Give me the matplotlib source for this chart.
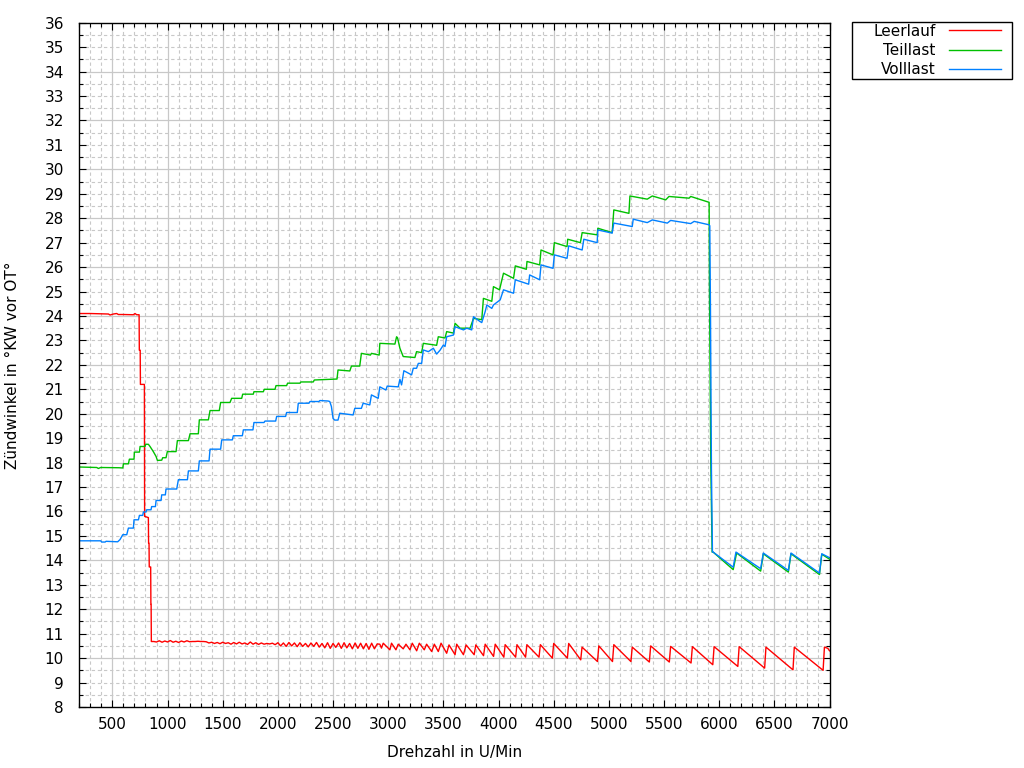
import matplotlib
matplotlib.use("Agg")
import matplotlib.pyplot as plt
from matplotlib.patches import Rectangle
from matplotlib.ticker import FixedLocator
import numpy as np

# ---------------- data (rpm, degrees) ----------------
series_names = ["Leerlauf", "Teillast", "Volllast"]
series_colors = ["#ff0000", "#00c000", "#0080ff"]

leerlauf = [
    (200, 24.10), (300, 24.10), (400, 24.09), (464, 24.08), (479, 24.04), (509, 24.08),
    (539, 24.10), (554, 24.06), (600, 24.06), (690, 24.05), (705, 24.10), (720, 24.05),
    (742, 24.05), (744, 22.60), (752, 22.60), (754, 21.20), (790, 21.20), (792, 15.80),
    (826, 15.75), (828, 14.70), (832, 14.70), (834, 13.73), (847, 13.73), (849, 12.20),
    (851, 12.20), (853, 10.68),
    (875, 10.68), (900, 10.66), (925, 10.71), (950, 10.65), (975, 10.70), (1000, 10.66),
    (1025, 10.72), (1050, 10.65), (1075, 10.69), (1100, 10.64), (1125, 10.70), (1150, 10.66),
    (1175, 10.71), (1200, 10.67), (1225, 10.68), (1250, 10.68), (1275, 10.69),
    (1300, 10.68), (1325, 10.68), (1350, 10.67), (1375, 10.62), (1400, 10.65), (1425, 10.60),
    (1450, 10.64), (1475, 10.59), (1500, 10.65), (1525, 10.60), (1550, 10.63), (1575, 10.57),
    (1600, 10.64), (1625, 10.58), (1650, 10.65), (1675, 10.58), (1700, 10.62), (1725, 10.56),
    (1750, 10.66), (1775, 10.57), (1800, 10.63), (1825, 10.56), (1850, 10.62), (1875, 10.57),
    (1900, 10.60), (1925, 10.58), (1950, 10.61), (1975, 10.55),
    (2000, 10.63), (2025, 10.50), (2050, 10.62), (2075, 10.48), (2100, 10.64), (2125, 10.50),
    (2150, 10.62), (2175, 10.47), (2200, 10.63), (2225, 10.48), (2250, 10.60), (2275, 10.46),
    (2300, 10.62), (2325, 10.48), (2350, 10.64), (2375, 10.45), (2400, 10.60), (2425, 10.42),
    (2450, 10.63), (2475, 10.40), (2500, 10.60), (2525, 10.44), (2550, 10.62), (2575, 10.40),
    (2600, 10.63), (2625, 10.42), (2650, 10.60), (2675, 10.38), (2700, 10.62), (2725, 10.40),
    (2750, 10.61), (2775, 10.38), (2800, 10.60), (2825, 10.36), (2850, 10.61), (2875, 10.38),
    (2900, 10.58),
    (2924, 10.57), (2939, 10.41), (2955, 10.61), (3015, 10.34), (3030, 10.61), (3070, 10.34),
    (3091, 10.57), (3136, 10.38), (3161, 10.57), (3197, 10.34), (3218, 10.61), (3258, 10.30),
    (3282, 10.61), (3327, 10.34), (3348, 10.57), (3394, 10.27), (3418, 10.57), (3454, 10.27),
    (3479, 10.61), (3530, 10.20), (3551, 10.54), (3606, 10.14), (3621, 10.57), (3682, 10.14),
    (3706, 10.54), (3779, 10.14), (3794, 10.54), (3864, 10.10), (3879, 10.57), (3955, 10.07),
    (3970, 10.57), (4048, 10.04), (4060, 10.55), (4155, 10.04), (4167, 10.55), (4245, 10.04),
    (4257, 10.55), (4367, 10.04), (4379, 10.55), (4488, 10.00), (4500, 10.60), (4624, 10.00),
    (4636, 10.60), (4745, 9.93), (4757, 10.45), (4897, 9.86), (4909, 10.50), (5033, 9.86),
    (5045, 10.55), (5200, 9.86), (5212, 10.45), (5367, 9.84), (5379, 10.50), (5548, 9.84),
    (5560, 10.48), (5745, 9.80), (5757, 10.47), (5942, 9.73), (5954, 10.47), (6169, 9.66),
    (6181, 10.47), (6412, 9.59), (6424, 10.45), (6669, 9.52), (6681, 10.45), (6942, 9.50),
    (6954, 10.45), (6985, 10.40), (7000, 10.30),
]

teillast = [
    (200, 17.82), (358, 17.80), (373, 17.76), (394, 17.80), (560, 17.79), (594, 17.78),
    (600, 17.95), (645, 17.95), (654, 18.14), (696, 18.14), (699, 18.43), (745, 18.43),
    (751, 18.66), (796, 18.66), (802, 18.75), (826, 18.75), (841, 18.66), (871, 18.45),
    (896, 18.25), (908, 18.09), (947, 18.10), (956, 18.20), (986, 18.20), (998, 18.45),
    (1077, 18.45), (1089, 18.90), (1189, 18.90), (1204, 19.18), (1279, 19.18), (1288, 19.75),
    (1370, 19.75), (1385, 20.13), (1469, 20.13), (1481, 20.46), (1566, 20.46), (1581, 20.63),
    (1672, 20.63), (1681, 20.80), (1777, 20.80), (1783, 20.90), (1868, 20.90), (1877, 21.00),
    (1974, 21.00), (1983, 21.15), (2079, 21.15), (2088, 21.25), (2200, 21.25), (2209, 21.30),
    (2321, 21.30), (2330, 21.38), (2536, 21.42), (2545, 21.79), (2652, 21.75), (2667, 21.95),
    (2742, 21.95), (2757, 22.47), (2839, 22.40), (2848, 22.47), (2918, 22.40), (2924, 22.88),
    (3061, 22.85), (3076, 23.15), (3085, 23.10), (3106, 22.68), (3136, 22.34), (3242, 22.30),
    (3257, 22.54), (3303, 22.50), (3318, 22.88), (3439, 22.80), (3454, 23.15), (3515, 23.10),
    (3530, 23.36), (3591, 23.30), (3606, 23.70), (3651, 23.50), (3742, 23.50), (3773, 23.90),
    (3848, 23.85), (3863, 24.72), (3939, 24.60), (3954, 25.20), (4009, 25.07), (4045, 25.75),
    (4136, 25.54), (4152, 26.05), (4252, 25.91), (4258, 26.23), (4373, 26.09), (4385, 26.70),
    (4494, 26.50), (4506, 27.00), (4621, 26.84), (4627, 27.14), (4742, 27.00), (4758, 27.41),
    (4894, 27.32), (4900, 27.59), (5030, 27.41), (5045, 28.34), (5182, 28.20), (5191, 28.91),
    (5348, 28.78), (5394, 28.91), (5515, 28.75), (5545, 28.89), (5727, 28.82), (5742, 28.89),
    (5909, 28.65), (5912, 25.06), (5918, 21.47), (5924, 17.96), (5936, 14.34), (5945, 14.34),
    (6127, 13.62), (6158, 14.30), (6376, 13.56), (6400, 14.27), (6627, 13.52), (6651, 14.27),
    (6909, 13.42), (6930, 14.25), (7000, 14.05),
]

volllast = [
    (200, 14.80), (394, 14.80), (403, 14.75), (434, 14.75), (443, 14.78), (548, 14.76),
    (569, 14.85), (594, 15.05), (630, 15.05), (645, 15.32), (690, 15.32), (696, 15.66),
    (736, 15.66), (745, 15.84), (775, 15.84), (781, 15.98), (805, 15.98), (811, 16.07),
    (850, 16.07), (856, 16.20), (890, 16.20), (896, 16.45), (941, 16.45), (947, 16.68),
    (980, 16.68), (986, 16.92), (1083, 16.92), (1098, 17.30), (1180, 17.30), (1189, 17.66),
    (1279, 17.66), (1288, 18.07), (1376, 18.07), (1385, 18.55), (1481, 18.55), (1491, 18.93),
    (1587, 18.93), (1596, 19.10), (1678, 19.10), (1687, 19.34), (1774, 19.34), (1783, 19.64),
    (1874, 19.64), (1883, 19.70), (1980, 19.70), (1989, 19.89), (2070, 19.89), (2079, 20.05),
    (2176, 20.05), (2185, 20.43), (2282, 20.43), (2291, 20.50), (2372, 20.50), (2381, 20.54),
    (2455, 20.52), (2470, 20.50), (2485, 20.30), (2500, 19.81), (2515, 19.74), (2545, 19.74),
    (2561, 20.02), (2682, 19.95), (2697, 20.22), (2757, 20.22), (2773, 20.43), (2833, 20.36),
    (2848, 20.77), (2909, 20.63), (2924, 21.10), (2979, 20.97), (2991, 21.13), (3091, 21.10),
    (3106, 21.41), (3121, 21.18), (3142, 21.76), (3212, 21.59), (3227, 21.86), (3257, 21.86),
    (3273, 22.06), (3303, 22.06), (3318, 22.61), (3364, 22.54), (3409, 22.68), (3439, 22.44),
    (3470, 22.60), (3500, 22.81), (3515, 22.75), (3530, 23.15), (3591, 23.22), (3606, 23.56),
    (3682, 23.43), (3712, 23.50), (3757, 23.43), (3773, 23.97), (3833, 23.77), (3848, 23.73),
    (3879, 24.18), (3894, 24.45), (3939, 24.31), (3954, 24.45), (4015, 24.66), (4045, 25.07),
    (4136, 24.93), (4152, 25.48), (4273, 25.30), (4282, 25.68), (4373, 25.48), (4385, 26.09),
    (4494, 25.95), (4506, 26.50), (4621, 26.36), (4636, 26.87), (4758, 26.70), (4773, 27.14),
    (4894, 27.00), (4900, 27.52), (5030, 27.39), (5045, 27.80), (5212, 27.66), (5221, 27.96),
    (5348, 27.82), (5394, 27.93), (5530, 27.80), (5560, 27.91), (5742, 27.78), (5773, 27.87),
    (5909, 27.73), (5915, 27.69), (5921, 24.30), (5930, 17.62), (5939, 14.34), (5945, 14.34),
    (6127, 13.72), (6152, 14.34), (6376, 13.66), (6400, 14.30), (6627, 13.59), (6651, 14.30),
    (6909, 13.48), (6930, 14.27), (7000, 14.11),
]

x_label = "Drehzahl in U/Min"
y_label = "Zündwinkel in °KW vor OT°"
x_range = (200, 7000)
y_range = (8, 36)

# ---------------- figure ----------------
plt.rcParams["font.family"] = ["DejaVu Sans"]
plt.rcParams["font.size"] = 11

W, H = 1024, 768
fig = plt.figure(figsize=(W / 100, H / 100), dpi=100)
ax_l, ax_r, ax_t, ax_b = 79.3, 829.5, 22.7, 707.0
ax = fig.add_axes([ax_l / W, 1 - ax_b / H, (ax_r - ax_l) / W, (ax_b - ax_t) / H])

ax.set_xlim(*x_range)
ax.set_ylim(*y_range)

# grid: solid at major positions, dashed at minor positions
grid_col = "#c8c8c8"
for gx in range(300, 7000, 100):
    if gx % 500 == 0:
        ax.axvline(gx, color=grid_col, lw=0.9, zorder=0)
    else:
        ax.axvline(gx, color=grid_col, lw=0.8, ls=(0, (3, 2.5)), zorder=0)
for gy in np.arange(8.5, 36.0, 0.5):
    if abs(gy % 2) < 1e-9:
        ax.axhline(gy, color=grid_col, lw=0.9, zorder=0)
    else:
        ax.axhline(gy, color=grid_col, lw=0.8, ls=(0, (3, 2.5)), zorder=0)

lines = []
for name, col, data in zip(series_names, series_colors, [leerlauf, teillast, volllast]):
    xs = [p[0] for p in data]
    ys = [p[1] for p in data]
    ln, = ax.plot(xs, ys, color=col, lw=1.0, label=name, zorder=3)
    lines.append(ln)

# ticks
ax.xaxis.set_major_locator(FixedLocator(list(range(500, 7001, 500))))
ax.xaxis.set_minor_locator(FixedLocator(list(range(200, 7001, 100))))
ax.yaxis.set_major_locator(FixedLocator(list(range(8, 37))))
ax.yaxis.set_minor_locator(FixedLocator(list(np.arange(8.5, 36, 1.0))))
ax.tick_params(which="both", direction="in", top=True, right=True, color="black", width=0.8)
ax.tick_params(which="major", length=5.2)
ax.tick_params(which="minor", length=2.6)
ax.tick_params(axis="x", which="major", pad=7.5, labelsize=11)
ax.tick_params(axis="y", which="major", pad=11, labelsize=11)
for sp in ax.spines.values():
    sp.set_linewidth(1.0)
    sp.set_color("black")
    sp.set_zorder(5)

ax.set_xlabel(x_label, fontsize=11)
ax.set_ylabel(y_label, fontsize=11)
ax.xaxis.set_label_coords(0.5, -(745 - ax_b) / (ax_b - ax_t))
ax.yaxis.set_label_coords(-(79.3 - 20) / (ax_r - ax_l), 0.5)

# legend (entries right-aligned like gnuplot), frame drawn as rectangle
fs_px = 11 * 100 / 72
leg = fig.legend(handles=lines, labels=series_names, loc="center",
                 bbox_to_anchor=(937 / W, 1 - 50.5 / H), markerfirst=False,
                 frameon=False, borderpad=0, handlelength=52 / fs_px,
                 handletextpad=13 / fs_px, labelspacing=0.28, fontsize=11)
fig.add_artist(Rectangle((852 / W, 1 - 79 / H), 160 / W, 57 / H,
                         transform=fig.transFigure, fill=False,
                         edgecolor="black", lw=1.0))

fig.savefig("out.png", dpi=100)
